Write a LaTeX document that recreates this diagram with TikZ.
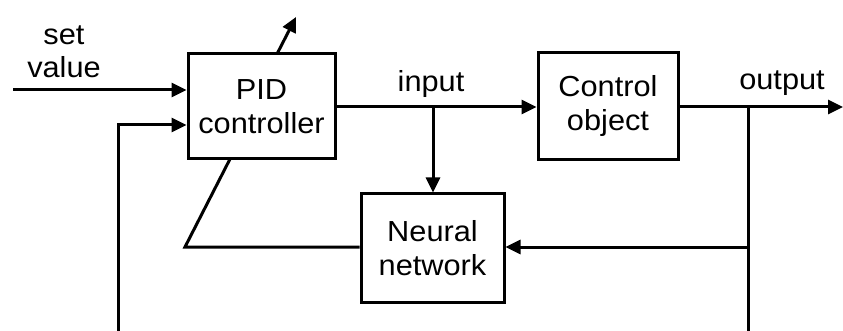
\documentclass[tikz,border=0pt]{standalone}
\usepackage{fontspec}
\setmainfont[FakeStretch=1.06]{Liberation Sans}
\usetikzlibrary{arrows.meta}
\begin{document}
\begin{tikzpicture}[x=1pt,y=-1pt,
  blk/.style={draw,line width=3pt,minimum width=0pt,minimum height=0pt,inner sep=0pt,align=center,font=\fontsize{29}{34}\selectfont},
  wire/.style={line width=3pt},
  arr/.style={wire,-{Triangle[length=15pt,width=14pt]}},
  lbl/.style={font=\fontsize{29}{33}\selectfont,align=center,inner sep=0pt}]
\useasboundingbox (0,0) rectangle (843,331);
\node[blk,minimum width=147pt,minimum height=105pt] (pid) at (261.5,106.5) {PID\\controller};
\node[blk,minimum width=140pt,minimum height=107pt] (co) at (608,106.5) {Control\\object};
\node[blk,minimum width=143pt,minimum height=108pt] (nn) at (432.5,248) {Neural\\network};
\node[lbl] (sv) at (64,52) {set\\value};
\node[lbl,anchor=base] (in) at (431,92) {input};
\node[lbl,anchor=base] (out) at (782,90) {output};
\coordinate (svs) at (13,90);
\coordinate (fbb) at (118,331);
\coordinate (fbt) at (118,125);
\coordinate (j1) at (433,107);
\coordinate (j2) at (748,107);
\coordinate (j3) at (748,247);
\coordinate (j2b) at (748,331);
\coordinate (oe) at (843,107);
\coordinate (tu) at (296,17);
\coordinate (ts) at (277,54);
\coordinate (nl) at (185,247);
\coordinate (pb) at (230,159);
% set value
\draw[arr] (svs) -- (svs -| pid.west);
% feedback
\draw[arr] (fbb) -- (fbt) -- (fbt -| pid.west);
% pid to control object
\draw[arr] (pid.east |- j1) -- (co.west |- j1);
% input branch to NN
\draw[arr] (j1) -- (nn.north -| j1);
% output
\draw[arr] (co.east |- j2) -- (oe);
\draw[wire] (j2) -- (j2b);
\draw[arr] (j3) -- (nn.east |- j3);
% NN to PID tuning
\draw[wire] (nn.west |- nl) -- (nl) -- (pb);
% tuning arrow
\draw[arr] (ts) -- (tu);
\end{tikzpicture}
\end{document}
